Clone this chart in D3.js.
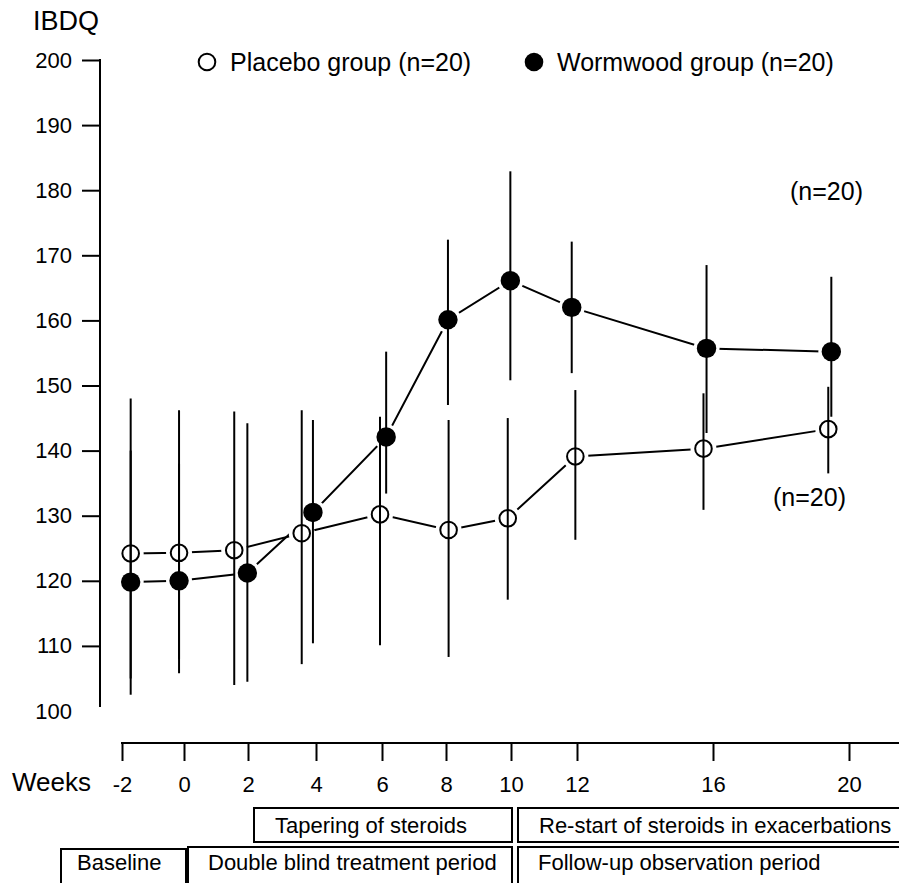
<!DOCTYPE html>
<html><head><meta charset="utf-8">
<script src="https://cdn.jsdelivr.net/npm/d3@7"></script>
<style>
body{margin:0;background:#fff}
svg{display:block}
text{font-family:"Liberation Sans",Arial,Helvetica,sans-serif;fill:#000}
</style>
</head><body><svg id="c" width="899" height="883"></svg>
<script>
// ---- data ----
const xTicks = [-2, 0, 2, 4, 6, 8, 10, 12, 16, 20];
const yTicks = [100, 110, 120, 130, 140, 150, 160, 170, 180, 190, 200];
const placeboWeeks = [-1.72, -0.16, 1.57, 3.58, 5.94, 8.08, 9.90, 11.95, 15.72, 19.39];
const placeboMean  = [124.2, 124.3, 124.7, 127.3, 130.2, 127.8, 129.6, 139.1, 140.3, 143.3];
const placeboUpper = [148.0, 146.2, 146.0, 146.2, 145.2, 144.7, 145.0, 149.3, 148.8, 149.8];
const placeboLower = [105.0, 108.0, 104.0, 107.2, 110.1, 108.3, 117.1, 126.3, 130.9, 136.5];
const wormWeeks = [-1.72, -0.16, 1.98, 3.91, 6.13, 8.06, 9.98, 11.84, 15.81, 19.48];
const wormMean  = [119.8, 120.0, 121.2, 130.5, 142.1, 160.1, 166.1, 162.0, 155.7, 155.2];
const wormUpper = [140.0, 138.0, 144.2, 144.7, 155.2, 172.4, 182.9, 172.1, 168.5, 166.7];
const wormLower = [102.5, 105.8, 104.5, 110.4, 133.4, 147.0, 150.8, 151.9, 142.7, 145.2];
const legendLabels = ["Placebo group (n=20)", "Wormwood group (n=20)"];
const nLabels = ["(n=20)", "(n=20)"];
const phaseRow1 = ["Tapering of steroids", "Re-start of steroids in exacerbations"];
const phaseRow2 = ["Baseline", "Double blind treatment period", "Follow-up observation period"];

// ---- build ----
const svg = d3.select("#c");
const font = '"Liberation Sans",Arial,Helvetica,sans-serif';

const x = d3.scaleLinear().domain(xTicks).range([122, 184, 248, 316, 382, 446, 511, 577, 713, 849]);
const y = d3.scaleLinear().domain([100, 200]).range([711, 60]);

const series = [
  {name: legendLabels[0], open: true,
   pts: placeboWeeks.map((w, i) => ({w, m: placeboMean[i], hi: placeboUpper[i], lo: placeboLower[i]}))},
  {name: legendLabels[1], open: false,
   pts: wormWeeks.map((w, i) => ({w, m: wormMean[i], hi: wormUpper[i], lo: wormLower[i]}))}
];

// y axis
const yAxis = d3.axisLeft(y).tickValues(yTicks).tickSize(18).tickPadding(10).tickSizeOuter(0);
const gy = svg.append("g").attr("transform", "translate(100,0)").call(yAxis);
gy.select(".domain").remove();
gy.selectAll(".tick line").attr("stroke", "#000").attr("stroke-width", 2)
  .filter(d => d === 100).remove();
gy.selectAll(".tick text").attr("font-size", 22).attr("font-family", font).attr("fill", "#000");
gy.append("line").attr("x1", 0).attr("x2", 0).attr("y1", y(200) - 1).attr("y2", y(100) - 4)
  .attr("stroke", "#000").attr("stroke-width", 2);
svg.append("text").attr("x", 33).attr("y", 30).attr("font-size", 27).text("IBDQ");

// x axis
const xAxis = d3.axisBottom(x).tickValues(xTicks).tickSize(18).tickPadding(15).tickSizeOuter(0)
  .tickFormat(d3.format("d"));
const gx = svg.append("g").attr("transform", "translate(0,743)").call(xAxis);
gx.select(".domain").remove();
gx.append("line").attr("x1", x(-2) - 1).attr("x2", 899).attr("y1", 0).attr("y2", 0)
  .attr("stroke", "#000").attr("stroke-width", 2);
gx.selectAll(".tick line").attr("stroke", "#000").attr("stroke-width", 2);
gx.selectAll(".tick text").attr("font-size", 22).attr("font-family", font).attr("fill", "#000")
  .text(d => d < 0 ? "-" + Math.abs(d) : d);
svg.append("text").attr("x", 12).attr("y", 791).attr("font-size", 26).text("Weeks");

// connecting lines
const line = d3.line().x(d => x(d.w)).y(d => y(d.m));
series.forEach(s => {
  svg.append("path").datum(s.pts).attr("d", line)
    .attr("fill", "none").attr("stroke", "#000").attr("stroke-width", 2);
});
// white halos
series.forEach(s => {
  svg.append("g").selectAll("circle").data(s.pts).join("circle")
    .attr("cx", d => x(d.w)).attr("cy", d => y(d.m)).attr("r", 13).attr("fill", "#fff");
});
// error bars
series.forEach(s => {
  svg.append("g").selectAll("line").data(s.pts).join("line")
    .attr("x1", d => x(d.w)).attr("x2", d => x(d.w))
    .attr("y1", d => y(d.hi)).attr("y2", d => y(d.lo))
    .attr("stroke", "#000").attr("stroke-width", 2);
});
// markers
series.forEach(s => {
  svg.append("g").selectAll("circle").data(s.pts).join("circle")
    .attr("cx", d => x(d.w)).attr("cy", d => y(d.m))
    .attr("r", s.open ? 8.3 : 9.7)
    .attr("fill", s.open ? "none" : "#000")
    .attr("stroke", s.open ? "#000" : "none").attr("stroke-width", 2);
});

// legend
const lg = [{cx: 207, tx: 230}, {cx: 534, tx: 557}];
series.forEach((s, i) => {
  svg.append("circle").attr("cx", lg[i].cx).attr("cy", 62).attr("r", s.open ? 8.3 : 9.3)
    .attr("fill", s.open ? "none" : "#000").attr("stroke", s.open ? "#000" : "none").attr("stroke-width", 2);
  svg.append("text").attr("x", lg[i].tx).attr("y", 71).attr("font-size", 25).text(s.name);
});

// n labels
svg.append("text").attr("x", 790).attr("y", 200).attr("font-size", 25).text(nLabels[1]);
svg.append("text").attr("x", 773).attr("y", 506).attr("font-size", 25).text(nLabels[0]);

// phase boxes
const row1 = [{x0: 254, x1: 512}, {x0: 518, x1: 905}];
const row2 = [{x0: 61, x1: 186}, {x0: 188, x1: 512}, {x0: 518, x1: 905}];
phaseRow1.forEach((t, i) => {
  svg.append("rect").attr("x", row1[i].x0).attr("y", 808).attr("width", row1[i].x1 - row1[i].x0)
    .attr("height", 34).attr("fill", "none").attr("stroke", "#000").attr("stroke-width", 2);
  svg.append("text").attr("x", row1[i].x0 + 21).attr("y", 833).attr("font-size", 22).text(t);
});
phaseRow2.forEach((t, i) => {
  svg.append("rect").attr("x", row2[i].x0).attr("y", i === 0 ? 849 : 847).attr("width", row2[i].x1 - row2[i].x0)
    .attr("height", 50).attr("fill", "none").attr("stroke", "#000").attr("stroke-width", 2);
  svg.append("text").attr("x", row2[i].x0 + (i === 0 ? 16 : 20)).attr("y", 870).attr("font-size", 22).text(t);
});
</script>
</body></html>
